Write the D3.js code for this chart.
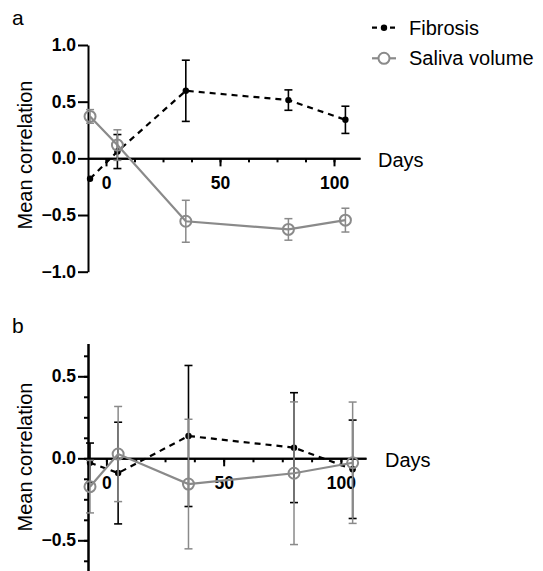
<!DOCTYPE html>
<html><head><meta charset="utf-8">
<script src="https://cdn.jsdelivr.net/npm/d3@7"></script>
<style>
body{margin:0;background:#fff;}
svg{display:block;font-family:"Liberation Sans",Arial,sans-serif;}
</style></head>
<body>
<svg id="chart" width="543" height="571"></svg>
<script>
// ---- data ----
const days = [-7, 5, 35, 80, 105];
const seriesNames = ["Fibrosis", "Saliva volume"];
// panel a
const fibA = [-0.18, 0.06, 0.596, 0.514, 0.34];
const fibAErr = [0, 0.15, 0.27, 0.09, 0.12];
const salA = [0.37, 0.117, -0.555, -0.627, -0.545];
const salAErr = [0.06, 0.135, 0.185, 0.095, 0.105];
// panel b
const fibB = [-0.027, -0.09, 0.136, 0.065, -0.067];
const fibBErr = [0.12, 0.31, 0.43, 0.335, 0.30];
const salB = [-0.173, 0.026, -0.157, -0.091, -0.027];
const salBErr = [0.16, 0.29, 0.395, 0.435, 0.37];
// ticks
const xMajor = [0, 50, 100];
const xMinor = [0, 12.5, 25, 37.5, 50, 62.5, 75, 87.5, 100];
const yTicksA = [-1, -0.5, 0, 0.5, 1];
const yTicksB = [-0.5, 0, 0.5];
const yMinorB = [-0.625, -0.5, -0.375, -0.25, -0.125, 0, 0.125, 0.25, 0.375, 0.5, 0.625];

const svg = d3.select("#chart");
const FIB = "#000";
const SAL = "#8a8a8a";
const fmt = d3.format(".1f");
const FONT = '"Liberation Sans",Arial,sans-serif';

function panel(cfg){
  const g = svg.append("g");
  const x = d3.scaleLinear().domain(cfg.xDomain).range([88, cfg.xRight]);
  const y = d3.scaleLinear().domain(cfg.yDomain).range(cfg.yRange);
  const y0 = y(0);

  // x axis
  const gx = g.append("g").attr("transform", `translate(0,${y0})`);
  gx.call(d3.axisBottom(x).tickValues(xMinor).tickSize(4).tickSizeOuter(0).tickFormat(""));
  gx.append("g").call(d3.axisBottom(x).tickValues(xMajor).tickSize(8).tickSizeOuter(0).tickPadding(10).tickFormat(d3.format("d")));
  gx.selectAll("path.domain").attr("stroke-width", 2);
  gx.selectAll(".tick line").attr("stroke-width", 2);
  gx.selectAll("text").attr("font-size", 17.5).attr("font-weight", "bold").attr("fill", "#000")
    .attr("font-family", FONT);

  // y axis
  const gy = g.append("g").attr("transform", "translate(88,0)");
  if (cfg.yMinor) {
    gy.append("g").call(d3.axisLeft(y).tickValues(cfg.yMinor).tickSize(4).tickSizeOuter(0).tickFormat(""));
  }
  gy.append("g").call(d3.axisLeft(y).tickValues(cfg.yTicks).tickSize(10).tickSizeOuter(0).tickPadding(2).tickFormat(fmt));
  gy.selectAll("path.domain").attr("stroke-width", 2);
  gy.selectAll(".tick line").attr("stroke-width", 2);
  gy.selectAll("text").attr("font-size", 17.5).attr("font-weight", "bold").attr("fill", "#000")
    .attr("font-family", FONT);

  // axis titles
  g.append("text").attr("x", cfg.daysX).attr("y", y0 + 9).attr("font-size", 20).text("Days");
  g.append("text").attr("transform", `translate(32,${cfg.ylabY}) rotate(-90)`)
    .attr("text-anchor", "middle").attr("font-size", 20).text("Mean correlation");
  g.append("text").attr("x", 12).attr("y", cfg.letterY).attr("font-size", 21).text(cfg.letter);

  const line = d3.line().x(d => x(d[0])).y(d => y(d[1]));

  function errbars(vals, errs, color, w){
    const eg = g.append("g").attr("stroke", color).attr("stroke-width", w).attr("fill", "none");
    days.forEach((d, i) => {
      if (!errs[i]) return;
      const cx = x(d), t = y(vals[i] + errs[i]), b = y(vals[i] - errs[i]);
      eg.append("line").attr("x1", cx).attr("x2", cx).attr("y1", t).attr("y2", b);
      eg.append("line").attr("x1", cx - 4).attr("x2", cx + 4).attr("y1", t).attr("y2", t);
      eg.append("line").attr("x1", cx - 4).attr("x2", cx + 4).attr("y1", b).attr("y2", b);
    });
  }

  // fibrosis
  errbars(cfg.fib, cfg.fibErr, FIB, 1.6);
  g.append("path").datum(days.map((d, i) => [d, cfg.fib[i]])).attr("d", line)
    .attr("fill", "none").attr("stroke", FIB).attr("stroke-width", 2.2).attr("stroke-dasharray", "6,5");
  g.append("g").selectAll("circle").data(days).join("circle")
    .attr("cx", d => x(d)).attr("cy", (d, i) => y(cfg.fib[i])).attr("r", 3.2).attr("fill", FIB);

  // saliva
  errbars(cfg.sal, cfg.salErr, SAL, 1.5);
  g.append("path").datum(days.map((d, i) => [d, cfg.sal[i]])).attr("d", line)
    .attr("fill", "none").attr("stroke", SAL).attr("stroke-width", 2.2);
  g.append("g").selectAll("circle").data(days).join("circle")
    .attr("cx", d => x(d)).attr("cy", (d, i) => y(cfg.sal[i])).attr("r", 5.5)
    .attr("fill", "none").attr("stroke", SAL).attr("stroke-width", 2);
}

panel({
  xDomain: [-7.9, 111.4], xRight: 360,
  yDomain: [-1, 1], yRange: [271.7, 45],
  yTicks: yTicksA, yMinor: null,
  fib: fibA, fibErr: fibAErr, sal: salA, salErr: salAErr,
  daysX: 378, ylabY: 155, letter: "a", letterY: 25
});
panel({
  xDomain: [-7.85, 110.7], xRight: 366,
  yDomain: [-0.7, 0.7], yRange: [573.1, 343.5],
  yTicks: yTicksB, yMinor: yMinorB,
  fib: fibB, fibErr: fibBErr, sal: salB, salErr: salBErr,
  daysX: 385, ylabY: 457, letter: "b", letterY: 333
});

// legend
const lg = svg.append("g");
const legendY = [27.7, 58.3];
lg.append("line").attr("x1", 372).attr("x2", 396).attr("y1", legendY[0]).attr("y2", legendY[0])
  .attr("stroke", FIB).attr("stroke-width", 2.2).attr("stroke-dasharray", "5,4");
lg.append("circle").attr("cx", 384).attr("cy", legendY[0]).attr("r", 3.2).attr("fill", FIB);
lg.append("line").attr("x1", 372).attr("x2", 396).attr("y1", legendY[1]).attr("y2", legendY[1])
  .attr("stroke", SAL).attr("stroke-width", 2.2);
lg.append("circle").attr("cx", 384).attr("cy", legendY[1]).attr("r", 5.5).attr("fill", "#fff")
  .attr("stroke", SAL).attr("stroke-width", 2);
seriesNames.forEach((n, i) => {
  lg.append("text").attr("x", 409).attr("y", legendY[i] + 7).attr("font-size", 20).text(n);
});
</script>
</body></html>
